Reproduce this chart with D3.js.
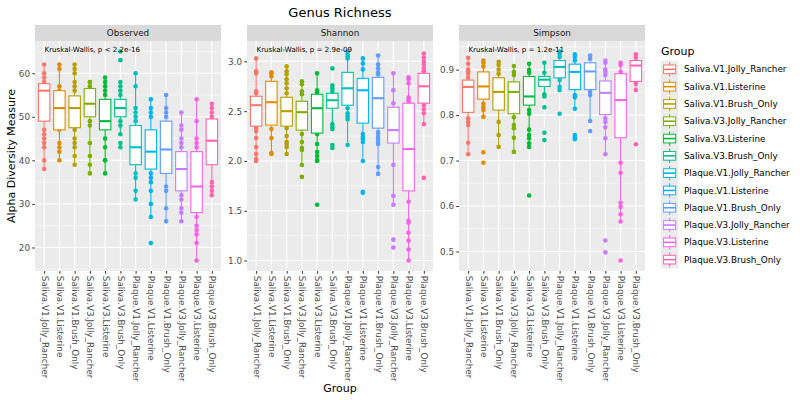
<!DOCTYPE html>
<html>
<head>
<meta charset="utf-8">
<script src="https://cdn.jsdelivr.net/npm/d3@7"></script>
<style>
  body { margin: 0; background: #fff; }
  svg { font-family: "DejaVu Sans", sans-serif; }
</style>
</head>
<body>
<div id="chart"></div>
<script>
// ---- data ----
const groups = ["Saliva.V1.Jolly_Rancher", "Saliva.V1.Listerine", "Saliva.V1.Brush_Only",
    "Saliva.V3.Jolly_Rancher", "Saliva.V3.Listerine", "Saliva.V3.Brush_Only",
    "Plaque.V1.Jolly_Rancher", "Plaque.V1.Listerine", "Plaque.V1.Brush_Only",
    "Plaque.V3.Jolly_Rancher", "Plaque.V3.Listerine", "Plaque.V3.Brush_Only"];

const colors = ["#F8766D", "#DE8C00", "#B79F00", "#7CAE00", "#00BA38", "#00C08B",
    "#00BFC4", "#00B4F0", "#619CFF", "#C77CFF", "#F564E3", "#FF64B0"];

const metrics = ["Observed", "Shannon", "Simpson"];
const kwLabels = ["Kruskal-Wallis, p < 2.2e-16", "Kruskal-Wallis, p = 2.9e-09", "Kruskal-Wallis, p = 1.2e-11"];

// Observed
const obsQ1  = [49, 47, 47.5, 50, 47, 50, 39, 38, 37, 33, 28, 39];
const obsMed = [56, 52, 52, 53, 49, 52, 43, 42, 42.5, 38, 34, 44.5];
const obsQ3  = [57.6, 56, 54.8, 56.5, 54, 54, 48, 47, 49, 42, 42, 49.5];
const obsLo  = [38, 40, 39, 37, 37, 46, 31, 27, 26, 26, 17, 32];
const obsHi  = [62, 62, 62, 58, 59, 58, 60, 54, 55, 51, 54, 53];
const obsPoints = [
    [62, 60, 59, 58, 47, 46, 45, 44, 43, 40, 38],
    [62, 61, 57, 56, 47, 44, 43, 42, 40],
    [62, 61, 60, 58, 57, 56, 47, 45, 44, 43, 41, 39],
    [58, 58, 57, 49, 48, 44, 41, 39, 37],
    [59, 58, 57, 56, 55, 45, 43, 40, 40, 37],
    [65, 63, 58, 57, 56, 55, 49, 48, 46, 44, 43],
    [60, 57, 52, 51, 50, 49, 37, 36, 33, 31],
    [54, 52, 51, 50, 37, 36, 35, 33, 30, 27, 21],
    [55, 52, 51, 50, 34, 33, 29, 26],
    [51, 48, 47, 45, 44, 43, 32, 31, 29, 28, 26],
    [54, 49, 45, 44, 43, 27, 25, 24, 23, 21, 17],
    [53, 52, 51, 50, 35, 34, 33, 32]
];

// Shannon
const shaQ1  = [2.35, 2.36, 2.35, 2.31, 2.28, 2.53, 2.56, 2.38, 2.33, 2.18, 1.70, 2.58];
const shaMed = [2.56, 2.59, 2.50, 2.49, 2.53, 2.61, 2.73, 2.71, 2.63, 2.31, 2.12, 2.75];
const shaQ3  = [2.65, 2.80, 2.64, 2.60, 2.67, 2.68, 2.89, 2.83, 2.84, 2.54, 2.58, 2.88];
const shaLo  = [2.00, 2.07, 2.07, 1.96, 2.00, 2.32, 2.16, 2.00, 1.87, 1.56, 1.00, 2.37];
const shaHi  = [3.03, 2.89, 2.95, 2.80, 2.88, 2.76, 3.10, 3.03, 3.06, 2.88, 2.84, 3.08];
const shaPoints = [
    [3.03, 2.90, 2.88, 2.70, 2.68, 2.33, 2.30, 2.23, 2.14, 2.07, 2.02, 2.00],
    [2.89, 2.88, 2.85, 2.32, 2.23, 2.08, 2.07],
    [2.95, 2.90, 2.87, 2.82, 2.78, 2.73, 2.68, 2.33, 2.25, 2.19, 2.17, 2.14, 2.07],
    [2.80, 2.77, 2.70, 2.67, 2.27, 2.19, 2.13, 2.11, 1.96, 1.84],
    [2.88, 2.71, 2.69, 2.27, 2.17, 2.09, 2.05, 2.01, 2.00, 1.56],
    [2.93, 2.76, 2.73, 2.70, 2.37, 2.34, 2.32, 2.16, 2.13],
    [3.10, 3.07, 3.05, 3.03, 2.53, 2.48, 2.45, 2.42, 2.16],
    [3.03, 2.98, 2.92, 2.27, 2.24, 2.22, 2.19, 2.00, 1.69, 1.68],
    [3.06, 2.97, 2.93, 2.89, 2.87, 2.29, 2.27, 2.24, 2.22, 2.19, 2.17, 1.94, 1.87],
    [2.88, 2.71, 2.58, 1.96, 1.65, 1.56, 1.21, 1.13],
    [2.84, 2.82, 2.78, 2.64, 2.62, 2.60, 1.59, 1.40, 1.38, 1.28, 1.20, 1.11, 1.00],
    [3.08, 3.04, 3.00, 2.97, 2.93, 2.90, 2.56, 2.52, 2.48, 2.37, 1.83]
];

// Simpson
const simQ1  = [0.806, 0.835, 0.811, 0.803, 0.822, 0.863, 0.882, 0.856, 0.856, 0.801, 0.750, 0.874];
const simMed = [0.862, 0.863, 0.851, 0.851, 0.841, 0.878, 0.906, 0.895, 0.896, 0.849, 0.833, 0.909];
const simQ3  = [0.877, 0.895, 0.882, 0.873, 0.885, 0.885, 0.920, 0.912, 0.915, 0.875, 0.891, 0.920];
const simLo  = [0.714, 0.796, 0.730, 0.719, 0.730, 0.841, 0.855, 0.814, 0.787, 0.714, 0.566, 0.855];
const simHi  = [0.926, 0.920, 0.917, 0.908, 0.913, 0.915, 0.940, 0.934, 0.931, 0.920, 0.915, 0.934];
const simPoints = [
    [0.926, 0.913, 0.900, 0.895, 0.891, 0.882, 0.793, 0.785, 0.778, 0.739, 0.714],
    [0.920, 0.915, 0.907, 0.825, 0.817, 0.811, 0.796, 0.718, 0.695],
    [0.917, 0.910, 0.900, 0.891, 0.785, 0.756, 0.730],
    [0.908, 0.895, 0.888, 0.795, 0.778, 0.771, 0.750, 0.719],
    [0.913, 0.899, 0.893, 0.811, 0.803, 0.768, 0.756, 0.749, 0.738, 0.730, 0.623],
    [0.915, 0.893, 0.846, 0.841, 0.817, 0.761, 0.745],
    [0.940, 0.935, 0.928, 0.877, 0.862, 0.855, 0.803],
    [0.934, 0.928, 0.920, 0.844, 0.839, 0.814, 0.756, 0.751, 0.747],
    [0.931, 0.924, 0.851, 0.844, 0.787, 0.765],
    [0.920, 0.915, 0.900, 0.895, 0.888, 0.793, 0.785, 0.773, 0.749, 0.714, 0.524, 0.498],
    [0.915, 0.910, 0.895, 0.695, 0.673, 0.607, 0.598, 0.582, 0.566, 0.480],
    [0.934, 0.926, 0.869, 0.855, 0.736]
];

// ---- layout ----
const W = 800, H = 400;
const panelLefts = [35, 247, 459];
const panelW = 186, panelTop = 41, panelH = 230, stripH = 16;
const fmt = [d3.format("d"), d3.format(".1f"), d3.format(".1f")];

const facets = [
    {q1: obsQ1, med: obsMed, q3: obsQ3, lo: obsLo, hi: obsHi, pts: obsPoints},
    {q1: shaQ1, med: shaMed, q3: shaQ3, lo: shaLo, hi: shaHi, pts: shaPoints},
    {q1: simQ1, med: simMed, q3: simQ3, lo: simLo, hi: simHi, pts: simPoints}
];

const svg = d3.select("#chart").append("svg")
    .attr("width", W)
    .attr("height", H);

svg.append("rect").attr("width", W).attr("height", H).attr("fill", "#fff");

// title
svg.append("text")
    .attr("x", 340).attr("y", 16.5)
    .attr("text-anchor", "middle")
    .style("font-size", "13px")
    .text("Genus Richness");

facets.forEach((f, k) => {
    const g = svg.append("g").attr("transform", "translate(" + panelLefts[k] + "," + panelTop + ")");

    const x = d3.scalePoint().domain(groups).range([0, panelW]).padding(0.6);

    // y domain from data with ggplot style 5% expansion
    const all = d3.merge(f.pts).concat(f.lo, f.hi);
    const ext = d3.extent(all);
    const pad = (ext[1] - ext[0]) * 0.05;
    const y = d3.scaleLinear().domain([ext[0] - pad, ext[1] + pad]).range([panelH, 0]);

    const major = y.ticks(5);
    const step = major[1] - major[0];
    const minor = d3.range(major[0] - step / 2, y.domain()[1], step)
        .filter(v => v > y.domain()[0]);

    // panel background + grid
    g.append("rect").attr("width", panelW).attr("height", panelH).attr("fill", "#EBEBEB");
    g.selectAll(".minor").data(minor).enter().append("line")
        .attr("x1", 0).attr("x2", panelW)
        .attr("y1", d => y(d)).attr("y2", d => y(d))
        .attr("stroke", "#fff").attr("stroke-width", 0.55);
    g.selectAll(".major").data(major).enter().append("line")
        .attr("x1", 0).attr("x2", panelW)
        .attr("y1", d => y(d)).attr("y2", d => y(d))
        .attr("stroke", "#fff").attr("stroke-width", 1.1);
    g.selectAll(".vgrid").data(groups).enter().append("line")
        .attr("x1", d => x(d)).attr("x2", d => x(d))
        .attr("y1", 0).attr("y2", panelH)
        .attr("stroke", "#fff").attr("stroke-width", 1.1);

    // strip
    svg.append("rect")
        .attr("x", panelLefts[k]).attr("y", panelTop - stripH)
        .attr("width", panelW).attr("height", stripH)
        .attr("fill", "#D9D9D9");
    svg.append("text")
        .attr("x", panelLefts[k] + panelW / 2).attr("y", panelTop - stripH / 2)
        .attr("dy", "0.35em")
        .attr("text-anchor", "middle")
        .style("font-size", "8.8px")
        .attr("fill", "#1A1A1A")
        .text(metrics[k]);

    // points (under the boxes)
    groups.forEach((grp, i) => {
        g.append("g").selectAll("circle").data(f.pts[i]).enter().append("circle")
            .attr("cx", x(grp))
            .attr("cy", d => y(d))
            .attr("r", 2.3)
            .attr("fill", colors[i]);
    });

    // boxes
    const bw = x.step() * 0.75;
    groups.forEach((grp, i) => {
        const cx = x(grp);
        const b = g.append("g");
        b.append("line")
            .attr("x1", cx).attr("x2", cx)
            .attr("y1", y(f.hi[i])).attr("y2", y(f.q3[i]))
            .attr("stroke", colors[i]).attr("stroke-width", 1.1);
        b.append("line")
            .attr("x1", cx).attr("x2", cx)
            .attr("y1", y(f.q1[i])).attr("y2", y(f.lo[i]))
            .attr("stroke", colors[i]).attr("stroke-width", 1.1);
        b.append("rect")
            .attr("x", cx - bw / 2).attr("width", bw)
            .attr("y", y(f.q3[i])).attr("height", y(f.q1[i]) - y(f.q3[i]))
            .attr("fill", "#fff")
            .attr("stroke", colors[i]).attr("stroke-width", 1.1);
        b.append("line")
            .attr("x1", cx - bw / 2).attr("x2", cx + bw / 2)
            .attr("y1", y(f.med[i])).attr("y2", y(f.med[i]))
            .attr("stroke", colors[i]).attr("stroke-width", 2.1);
    });

    // Kruskal-Wallis label
    g.append("text")
        .attr("x", 9.5).attr("y", 8.7)
        .attr("dy", "0.35em")
        .style("font-size", "7.1px")
        .text(kwLabels[k]);

    // y axis
    const ya = g.append("g")
        .call(d3.axisLeft(y).tickValues(major).tickSize(2.75).tickPadding(2.2).tickFormat(fmt[k]));
    ya.select(".domain").remove();
    ya.selectAll("line").attr("stroke", "#333333");
    ya.selectAll("text").attr("fill", "#4D4D4D").style("font-size", "8.8px").style("font-family", "DejaVu Sans");

    // x axis
    const xa = g.append("g")
        .attr("transform", "translate(0," + panelH + ")")
        .call(d3.axisBottom(x).tickSize(2.75));
    xa.select(".domain").remove();
    xa.selectAll("line").attr("stroke", "#333333");
    xa.selectAll("text")
        .attr("transform", "rotate(90)")
        .attr("x", 4.8).attr("y", 0)
        .attr("dy", "0.35em")
        .style("text-anchor", "start")
        .attr("fill", "#4D4D4D")
        .style("font-size", "8.8px")
        .style("font-family", "DejaVu Sans");
});

// axis titles
svg.append("text")
    .attr("x", 340).attr("y", 392)
    .attr("text-anchor", "middle")
    .style("font-size", "11px")
    .text("Group");

svg.append("text")
    .attr("transform", "translate(14.5,156) rotate(-90)")
    .attr("text-anchor", "middle")
    .style("font-size", "11px")
    .text("Alpha Diversity Measure");

// legend
const legend = svg.append("g").attr("transform", "translate(661,0)");
legend.append("text")
    .attr("x", 0).attr("y", 54.7)
    .style("font-size", "11px")
    .text("Group");

const keySize = 17.3, keyTop = 60.7;
groups.forEach((grp, i) => {
    const ky = keyTop + i * keySize;
    const key = legend.append("g").attr("transform", "translate(0," + ky + ")");
    key.append("rect").attr("width", keySize).attr("height", keySize).attr("fill", "#EBEBEB");
    key.append("line")
        .attr("x1", keySize / 2).attr("x2", keySize / 2)
        .attr("y1", 1.5).attr("y2", keySize - 1.5)
        .attr("stroke", colors[i]).attr("stroke-width", 1);
    key.append("rect")
        .attr("x", 2.6).attr("y", 4.3)
        .attr("width", keySize - 5.2).attr("height", keySize - 8.6)
        .attr("fill", "#fff")
        .attr("stroke", colors[i]).attr("stroke-width", 1);
    key.append("line")
        .attr("x1", 2.6).attr("x2", keySize - 2.6)
        .attr("y1", keySize / 2).attr("y2", keySize / 2)
        .attr("stroke", colors[i]).attr("stroke-width", 1.6);
    key.append("text")
        .attr("x", 23).attr("y", keySize / 2)
        .attr("dy", "0.35em")
        .style("font-size", "8.8px")
        .text(grp);
});
</script>
</body>
</html>
